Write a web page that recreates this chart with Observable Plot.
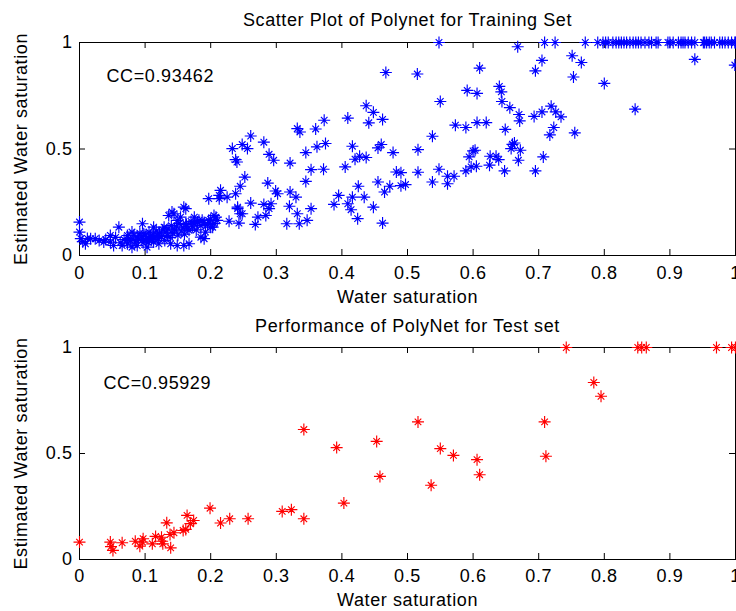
<!DOCTYPE html>
<html>
<head>
<meta charset="utf-8">
<script src="https://cdn.jsdelivr.net/npm/d3@7"></script>
<script src="https://cdn.jsdelivr.net/npm/@observablehq/plot@0.6"></script>
<style>
  html, body { margin: 0; padding: 0; background: #fff; }
  #wrap { width: 736px; height: 611px; position: relative; overflow: hidden; background: #fff; }
  #wrap svg { display: block; overflow: visible; }
</style>
</head>
<body>
<div id="wrap"></div>
<script>
// ---------- data ----------
const xTicks = [0, 0.1, 0.2, 0.3, 0.4, 0.5, 0.6, 0.7, 0.8, 0.9, 1];
const yTicks = [0, 0.5, 1];

const titles = ["Scatter Plot of Polynet for Training Set", "Performance of PolyNet for Test set"];
const xLabel = "Water saturation";
const yLabel = "Estimated Water saturation";
const ccLabels = ["CC=0.93462", "CC=0.95929"];

// Training set (blue)
const trainX = [
  0.548,0.709,0.725,0.771,0.790,0.798,0.806,0.813,0.818,0.826,0.834,0.839,0.844,0.856,0.862,0.872,0.879,0.882,
  0.897,0.905,0.913,0.917,0.923,0.928,0.933,0.938,0.951,0.956,0.963,0.968,0.976,0.984,0.989,0.994,0.999,
  0.802,0.822,0.830,0.848,0.852,0.868,0.900,0.920,0.953,0.960,0.980,1.000,
  0.668,0.938,0.999,0.751,0.765,0.705,0.695,0.610,0.515,0.467,0.753,0.800,0.847,0.591,0.606,0.640,0.643,0.644,
  0.656,0.670,0.671,0.693,0.705,0.719,0.726,0.734,0.723,0.717,0.755,0.649,0.573,0.589,0.606,0.620,0.550,0.538,
  0.516,0.516,0.490,0.497,0.548,0.561,0.571,0.538,0.561,0.589,0.597,0.605,0.594,0.600,0.603,0.626,0.635,0.639,
  0.625,0.648,0.660,0.663,0.658,0.672,0.669,0.695,0.707,
  0.437,0.448,0.462,0.441,0.409,0.373,0.360,0.332,0.336,0.261,0.281,0.248,0.233,0.256,0.238,0.240,0.289,0.296,
  0.321,0.345,0.362,0.375,0.416,0.455,0.460,0.478,0.420,0.427,0.437,0.405,0.372,0.353,0.345,0.483,0.455,0.473,
  0.490,0.465,0.425,0.395,0.416,0.434,0.388,0.409,0.414,0.424,0.448,0.462,0.252,0.245,0.287,0.299,0.302,0.321,
  0.330,0.320,0.332,0.335,0.347,0.353,0.316,0.292,0.281,0.289,0.284,0.272,0.268,0.261,0.241,0.245,0.243,0.228,
  0.215,0.213,0.197,0.225,0.238,0.208,0.187,0.200,0.190,
  0.000,0.000,0.002,0.017,0.009,0.024,0.037,0.047,0.060,0.047,0.052,0.065,0.073,0.080,0.088,0.096,0.098,0.101,
  0.106,0.113,0.119,0.121,0.129,0.134,0.136,0.144,0.149,0.154,0.162,0.162,0.167,0.175,0.180,0.185,0.192,0.197,
  0.203,0.205,0.210,0.139,0.149,0.159,0.167,0.088,0.073,0.080,0.103,0.113,0.213,0.241,0.248,0.159,0.141,
  0.075,0.078,0.083,0.085,0.090,0.092,0.095,0.097,0.100,0.102,0.105,0.108,0.110,0.112,0.115,0.117,0.120,0.122,
  0.125,0.127,0.130,0.132,0.135,0.138,0.140,0.142,0.145,0.148,0.150,0.152,0.155,0.158,0.160,0.163,0.165,0.170,
  0.172,0.175,0.178,0.182,0.185,0.190,0.195,0.200,0.205,0.068,0.062,0.055,0.040,0.030,0.012,0.005
];
const trainY = [
  1,1,1,1,1,1,1,1,1,1,1,1,1,1,1,1,1,1,
  1,1,1,1,1,1,1,1,1,1,1,1,1,1,1,1,1,
  1,1,1,1,1,1,1,1,1,1,1,1,
  0.980,0.921,0.894,0.938,0.906,0.916,0.867,0.880,0.852,0.859,0.838,0.808,0.687,0.775,0.761,0.794,0.768,0.723,
  0.694,0.662,0.632,0.653,0.674,0.701,0.674,0.651,0.601,0.566,0.576,0.592,0.612,0.601,0.624,0.624,0.723,0.560,
  0.497,0.391,0.389,0.333,0.405,0.372,0.372,0.345,0.337,0.397,0.416,0.419,0.463,0.491,0.494,0.466,0.466,0.450,
  0.424,0.397,0.522,0.528,0.502,0.494,0.447,0.397,0.463,
  0.703,0.672,0.639,0.623,0.645,0.635,0.594,0.596,0.580,0.561,0.532,0.521,0.502,0.502,0.450,0.439,0.475,0.447,
  0.434,0.483,0.510,0.526,0.513,0.505,0.521,0.483,0.452,0.466,0.460,0.416,0.405,0.403,0.348,0.392,0.345,0.325,
  0.328,0.298,0.325,0.282,0.274,0.274,0.240,0.243,0.215,0.173,0.227,0.152,0.368,0.325,0.340,0.303,0.290,0.298,
  0.274,0.231,0.196,0.149,0.165,0.220,0.149,0.243,0.240,0.220,0.188,0.180,0.146,0.246,0.227,0.196,0.152,0.161,
  0.306,0.267,0.267,0.274,0.290,0.180,0.165,0.133,0.079,
  0.157,0.110,0.079,0.079,0.055,0.079,0.063,0.063,0.133,0.094,0.047,0.047,0.094,0.110,0.086,0.149,0.102,0.071,
  0.110,0.133,0.094,0.055,0.133,0.094,0.188,0.196,0.165,0.180,0.220,0.149,0.118,0.180,0.157,0.086,0.110,0.165,
  0.133,0.188,0.165,0.055,0.047,0.047,0.055,0.047,0.055,0.039,0.039,0.063,0.282,0.220,0.196,0.227,0.204,
  0.080,0.070,0.095,0.062,0.075,0.105,0.088,0.060,0.095,0.080,0.062,0.090,0.075,0.100,0.085,0.115,0.078,0.105,
  0.090,0.120,0.070,0.110,0.125,0.085,0.140,0.105,0.120,0.135,0.095,0.150,0.115,0.130,0.100,0.145,0.125,0.160,
  0.135,0.150,0.120,0.165,0.140,0.155,0.145,0.170,0.150,0.075,0.060,0.085,0.075,0.070,0.080,0.065
];

// Test set (red)
const testX = [
  0.000,0.047,0.048,0.051,0.065,0.085,0.092,0.097,0.096,0.111,0.116,0.125,0.126,0.127,0.133,0.139,0.138,0.144,
  0.158,0.162,0.164,0.169,0.174,0.199,0.215,0.229,0.257,0.309,0.323,0.342,0.342,0.392,0.403,0.453,0.458,
  0.742,0.851,0.857,0.864,0.971,0.994,1.000,0.784,0.795,0.516,0.709,0.550,0.570,0.606,0.610,0.536,0.711
];
const testY = [
  0.082,0.082,0.061,0.043,0.079,0.086,0.063,0.098,0.082,0.074,0.109,0.105,0.086,0.074,0.173,0.055,0.118,0.126,
  0.137,0.142,0.208,0.169,0.184,0.242,0.172,0.192,0.192,0.227,0.235,0.192,0.613,0.528,0.266,0.557,0.392,
  1,1,1,1,1,1,1,0.835,0.770,0.649,0.649,0.523,0.491,0.471,0.400,0.350,0.487
];

// ---------- drawing ----------
const matlabStar = {
  draw(ctx, size) {
    const r = Math.sqrt(size / Math.PI);
    const d = r * 0.55;
    ctx.moveTo(-r, 0); ctx.lineTo(r, 0);
    ctx.moveTo(0, -r); ctx.lineTo(0, r);
    ctx.moveTo(-d, -d); ctx.lineTo(d, d);
    ctx.moveTo(-d, d); ctx.lineTo(d, -d);
  }
};

const W = 736, ML = 79, MR = 1;
const fmt = d => String(d);

function panel(cfg) {
  const innerH = cfg.height - cfg.mt - cfg.mb;
  const innerW = W - ML - MR;
  const pts = cfg.X.map((x, i) => ({x, y: cfg.Y[i]}));
  return Plot.plot({
    width: W, height: cfg.height,
    marginLeft: ML, marginRight: MR, marginTop: cfg.mt, marginBottom: cfg.mb,
    style: {fontFamily: "'Liberation Sans', Arial, Helvetica, sans-serif", fontSize: "18px", letterSpacing: "0.6px", color: "#000", background: "#fff"},
    x: {domain: [0, 1]},
    y: {domain: [0, 1]},
    marks: [
      Plot.tickX(xTicks, {x: d => d, insetTop: innerH - 6, stroke: "#000"}),
      Plot.tickX(xTicks, {x: d => d, insetBottom: innerH - 6, stroke: "#000"}),
      Plot.tickY(yTicks, {y: d => d, insetRight: innerW - 6, stroke: "#000"}),
      Plot.tickY(yTicks, {y: d => d, insetLeft: innerW - 6, stroke: "#000"}),
      Plot.frame({stroke: "#000", strokeWidth: 1}),
      Plot.dot(pts, {x: "x", y: "y", symbol: matlabStar, r: 6, fill: "none", stroke: cfg.color, strokeWidth: 1.15}),
      Plot.axisX({ticks: xTicks, tickSize: 0, tickPadding: cfg.xPad, tickFormat: fmt, label: null, fill: "#000"}),
      Plot.axisY({ticks: yTicks, tickSize: 0, tickPadding: 7, tickFormat: fmt, label: null, fill: "#000"}),
      Plot.text([cfg.title], {text: d => d, frameAnchor: "top", lineAnchor: "bottom", dy: cfg.titleDy, fill: "#000"}),
      Plot.text([xLabel], {text: d => d, frameAnchor: "bottom", lineAnchor: "bottom", dy: cfg.xlabDy, fill: "#000"}),
      Plot.text([yLabel], {text: d => d, frameAnchor: "left", textAnchor: "middle", rotate: -90, lineAnchor: "middle", dx: -58, fill: "#000"}),
      Plot.text([cfg.cc], {text: d => d, frameAnchor: "top-left", textAnchor: "start", lineAnchor: "bottom", dx: cfg.ccDx, dy: cfg.ccDy, fill: "#000"})
    ]
  });
}

const wrap = document.getElementById("wrap");
wrap.appendChild(panel({
  X: trainX, Y: trainY, color: "#0000ff", title: titles[0], cc: ccLabels[0],
  height: 306, mt: 42, mb: 51, xPad: 11, titleDy: -17, xlabDy: 47, ccDx: 27, ccDy: 39
}));
wrap.appendChild(panel({
  X: testX, Y: testY, color: "#ff0000", title: titles[1], cc: ccLabels[1],
  height: 305, mt: 41, mb: 52, xPad: 10, titleDy: -16, xlabDy: 46, ccDx: 24, ccDy: 41
}));
</script>
</body>
</html>
